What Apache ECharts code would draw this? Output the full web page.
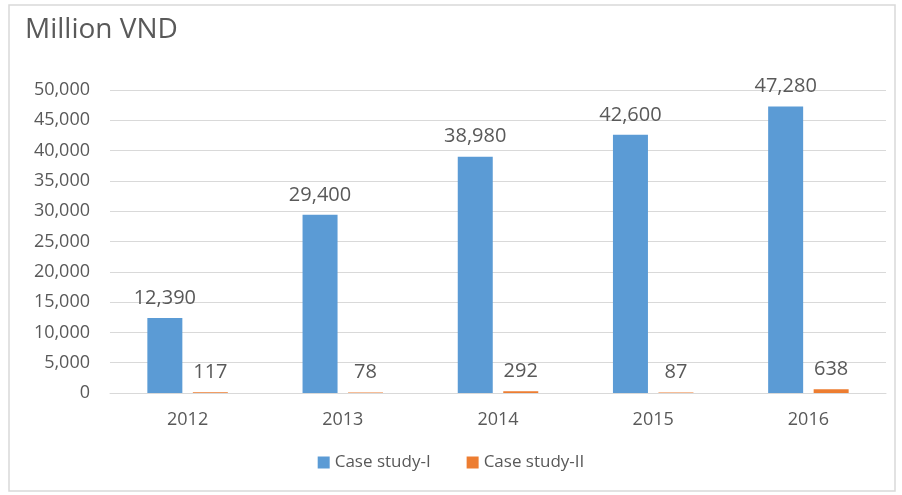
<!DOCTYPE html>
<html>
<head>
<meta charset="utf-8">
<script src="https://cdn.jsdelivr.net/npm/echarts@6/dist/echarts.min.js"></script>
<style>
html,body{margin:0;padding:0;background:#fff;}
#chart{width:902px;height:495px;}
</style>
</head>
<body>
<div id="chart"></div>
<script>
// Annual values per case study (million VND)
const years = ['2012', '2013', '2014', '2015', '2016'];
const caseStudyI = [12390, 29400, 38980, 42600, 47280];
const caseStudyII = [117, 78, 292, 87, 638];
const seriesNames = ['Case study-I', 'Case study-II'];

const FONT = '"Open Sans", "Noto Sans", sans-serif';
const TEXT = '#595959';

const chart = echarts.init(document.getElementById('chart'));
const labelStyle = {
  show: true,
  position: 'top',
  distance: 10,
  color: TEXT,
  fontSize: 20,
  fontFamily: FONT,
  formatter: p => p.value.toLocaleString('en-US')
};

chart.setOption({
  animation: false,
  backgroundColor: '#fff',
  title: {
    text: 'Million VND',
    left: 20,
    top: 11,
    textStyle: { color: TEXT, fontSize: 28, fontWeight: 'normal', fontFamily: FONT }
  },
  graphic: [{
    type: 'rect',
    shape: { x: 9, y: 5, width: 886, height: 486 },
    style: { fill: 'none', stroke: '#d9d9d9', lineWidth: 1.5 },
    silent: true
  }],
  legend: {
    data: seriesNames,
    bottom: 19,
    left: 'center',
    itemWidth: 12,
    itemHeight: 12,
    itemGap: 36,
    icon: 'rect',
    textStyle: { color: TEXT, fontSize: 17, fontFamily: FONT }
  },
  grid: { left: 110, right: 16, top: 90, bottom: 102 },
  xAxis: {
    type: 'category',
    data: years,
    axisLine: { lineStyle: { color: '#d9d9d9' } },
    axisTick: { show: false },
    axisLabel: { color: TEXT, fontSize: 18, fontFamily: FONT, margin: 18 }
  },
  yAxis: {
    type: 'value',
    min: 0,
    max: 50000,
    interval: 5000,
    axisLine: { show: false },
    axisTick: { show: false },
    splitLine: { lineStyle: { color: '#d9d9d9' } },
    axisLabel: {
      color: TEXT, fontSize: 18, fontFamily: FONT, margin: 20,
      formatter: v => v.toLocaleString('en-US')
    }
  },
  series: [
    {
      name: seriesNames[0],
      type: 'bar',
      data: caseStudyI,
      barWidth: 35,
      barGap: '30%',
      itemStyle: { color: '#5b9bd5' },
      label: labelStyle
    },
    {
      name: seriesNames[1],
      type: 'bar',
      data: caseStudyII,
      barWidth: 35,
      itemStyle: { color: '#ed7d31' },
      label: labelStyle
    }
  ]
});
</script>
</body>
</html>
